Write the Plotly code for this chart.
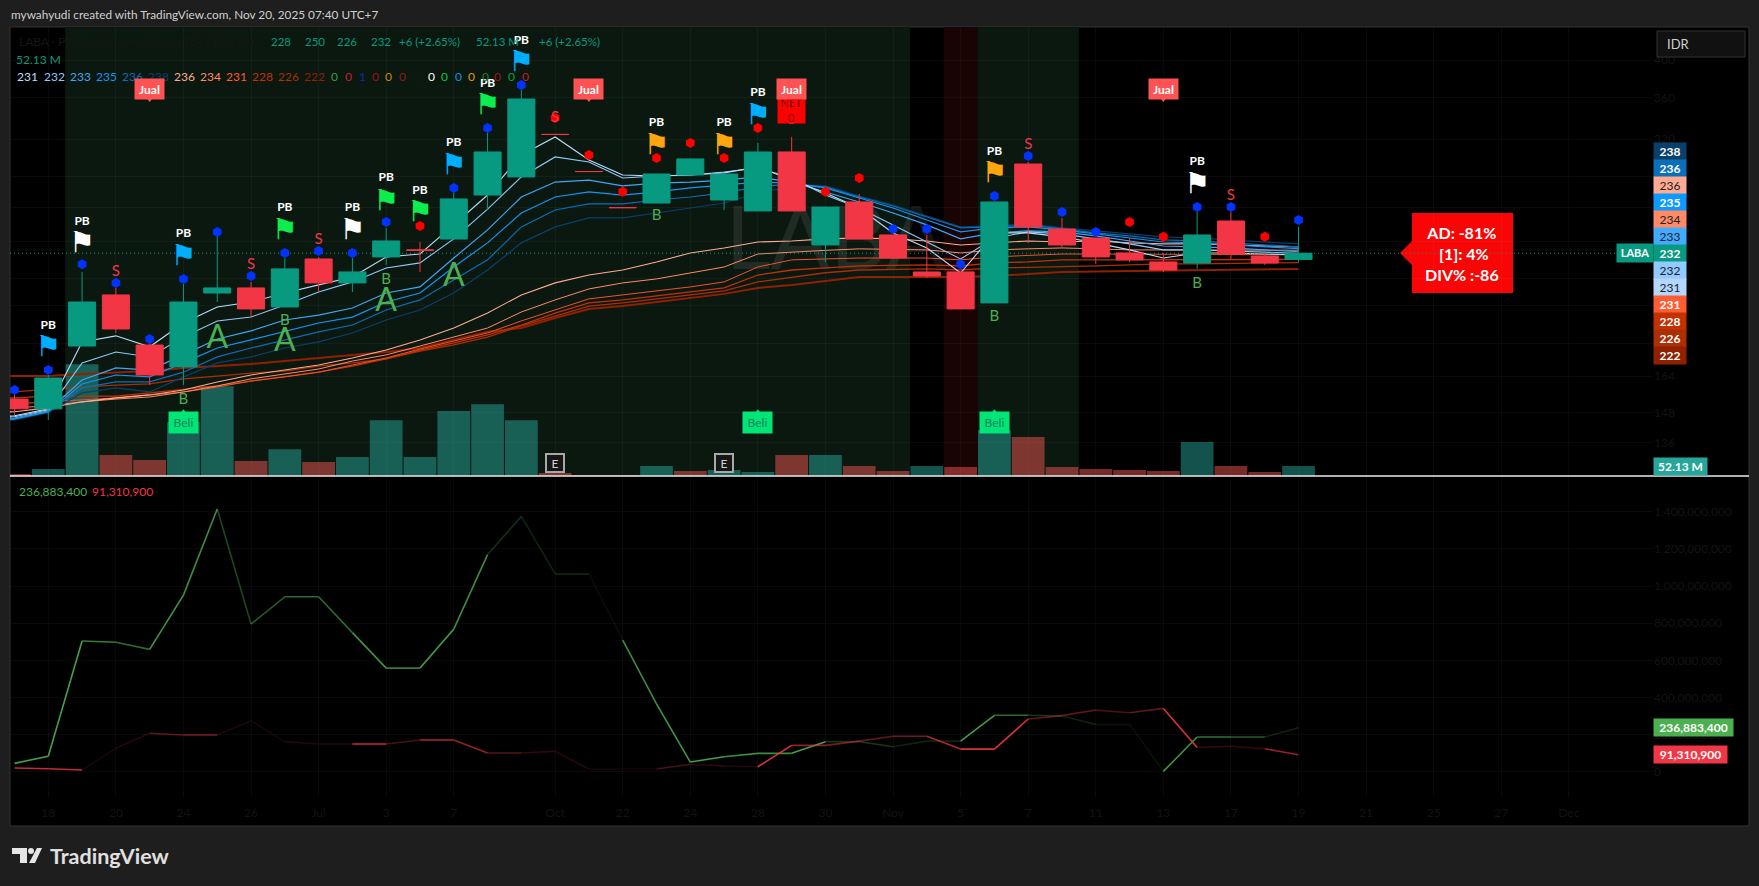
import math
import plotly.graph_objects as go

W, H = 1759, 886

# ---------- data ----------
bar_index = list(range(39))
opens = [153.8,149.6,178.6,206.3,179.1,168.4,207.4,210.4,199.4,228.3,213.4,229.6,234.2,241.5,273.4,287.7,324.4,292.2,263.9,267.3,289.3,269.6,261.4,308.7,237.5,268.1,244.3,220.1,220.1,201.7,298.4,248.4,242.2,232.2,226.4,225.7,254.1,230.2,228]
highs = [155.6,164.6,220.1,210.4,180.2,212.8,243.6,214.0,228.9,229.6,228.9,249.1,239.5,275.0,325.7,367.7,324.4,292.2,263.9,290.1,302.7,290.1,316.6,322.0,264.3,274.2,244.3,244.3,220.1,268.1,300.1,256.3,242.2,242.2,232.2,260.6,260.6,231.5,250]
lows = [147.1,145.0,178.6,185.3,160.0,160.0,202.2,193.9,199.4,208.0,208.0,224.5,220.1,241.5,262.1,287.7,324.3,292.1,263.8,267.3,289.3,262.1,261.4,261.4,226.4,241.5,228.3,216.4,198.3,201.7,238.8,236.2,225.1,226.4,220.1,222.0,228.3,224.5,226]
closes = [149.6,163.2,202.2,187.4,164.6,202.2,210.4,198.3,222.0,213.4,220.1,240.2,234.0,270.4,308.7,358.4,324.3,292.1,263.8,290.1,302.7,290.1,308.7,261.4,264.3,241.5,228.9,217.6,198.3,268.1,249.8,237.5,229.6,227.7,221.3,244.3,231.5,225.7,232]
volumes_m = [10.4,36,582,109,83,281,468,78,140,73,99,291,99,338,374,291,16,5,5,52,26,31,21,109,109,52,26,52,47,239,203,47,36,31,26,177,52.13,21,52.13]
volume_up = [0,1,1,0,0,1,1,0,1,0,1,1,1,1,1,1,0,0,0,1,0,1,1,0,1,0,0,1,0,1,0,0,0,0,0,1,0,0,1]

ema_x = list(range(-1, 39))
ema_231 = [145.8,146.7,149.6,180.7,183.8,178.2,190.6,199.4,202.2,207.4,212.2,217.0,229.6,231.5,251.3,273.4,306.1,322.0,301.8,289.3,288.5,289.3,291.0,296.0,285.2,275.0,263.6,245.7,235.5,219.4,245.7,245.7,243.0,238.9,234.2,228.9,232.2,232.2,231.5,231.0]
ema_232 = [145.4,146.3,149.2,170.3,175.6,173.2,183.2,191.7,193.8,200.5,208.0,214.0,222.6,225.8,241.6,262.8,287.7,304.4,300.1,286.8,288.5,289.3,291.8,295.1,286.8,273.4,263.6,251.3,239.5,228.3,242.2,246.4,245.0,241.6,238.2,234.2,234.2,233.5,232.9,232.0]
ema_233 = [145.0,145.8,148.8,162.3,167.9,166.9,174.2,182.2,186.4,192.2,194.9,198.8,207.4,211.0,228.9,247.8,271.9,283.6,285.2,280.5,282.8,283.6,285.2,287.7,283.6,275.8,268.1,259.9,251.3,241.6,245.7,247.1,246.4,243.6,240.2,236.8,236.2,235.5,234.2,233.0]
ema_235 = [144.6,145.4,148.4,160.5,164.6,163.7,170.3,177.6,181.7,185.9,190.6,193.8,202.2,207.4,223.2,238.9,259.9,271.9,275.8,273.4,275.8,278.9,281.3,283.6,282.8,278.9,271.1,263.6,254.8,246.4,249.2,249.9,247.8,245.0,242.2,239.5,238.9,237.5,236.2,235.0]
ema_236 = [144.2,145.4,148.4,158.7,161.4,161.4,165.9,173.2,177.6,181.7,185.9,189.5,197.7,203.4,215.2,227.7,249.9,262.1,266.6,266.6,269.6,271.9,275.0,279.7,282.1,279.7,271.9,265.1,257.0,249.2,249.9,251.3,248.5,245.7,243.6,240.9,240.2,238.9,237.5,236.2]
ema_238 = [143.8,145.0,148.0,156.5,158.7,156.9,163.7,170.3,173.2,177.6,180.7,185.3,192.2,197.7,207.4,221.3,238.9,249.9,256.3,256.3,259.9,263.6,267.3,275.0,279.7,280.5,272.6,265.8,257.8,249.9,250.6,252.0,249.2,247.1,245.0,243.0,242.2,240.9,239.5,238.2]
ema_a = [148.0,148.4,150.0,152.6,154.3,155.6,157.8,161.4,164.6,166.9,169.3,172.7,176.6,181.7,187.9,196.0,206.3,213.4,218.2,221.3,226.4,232.2,235.5,239.5,240.2,241.6,242.2,241.6,240.2,237.5,238.9,240.2,239.5,240.2,238.9,238.2,238.2,237.5,236.8,236.2]
ema_b = [149.6,150.0,150.9,152.6,153.8,154.7,156.9,159.6,162.8,165.1,167.4,171.2,174.2,178.6,183.2,187.9,196.6,203.4,209.8,213.4,215.8,219.4,223.2,231.5,232.9,233.9,234.9,234.5,234.2,232.2,234.2,234.9,235.5,234.9,234.2,234.2,234.2,234.2,234.2,234.0]
ema_c = [151.7,151.7,152.6,153.4,154.3,155.6,156.9,159.1,161.8,163.7,165.9,169.3,172.7,177.1,181.2,185.3,191.7,197.7,204.0,206.3,208.6,211.0,214.0,223.2,227.7,228.3,228.9,228.9,228.9,227.7,229.6,230.6,231.5,231.5,231.5,231.2,231.2,231.2,231.0,231.0]
ema_d = [154.3,154.3,155.1,155.1,155.1,156.5,158.2,159.6,161.8,163.7,165.9,168.8,172.2,176.6,180.2,184.3,189.5,196.0,201.7,203.4,205.7,208.0,210.4,218.2,221.3,222.6,223.9,224.2,224.5,223.9,225.8,226.4,227.7,227.7,227.7,227.7,227.7,227.7,227.7,228.0]
ema_e = [156.9,156.9,158.2,159.1,160.0,160.5,162.8,164.1,165.5,166.4,168.8,170.3,172.2,176.1,179.2,183.2,189.0,194.3,199.9,201.7,204.0,206.3,208.6,214.0,217.0,219.6,221.3,221.6,222.0,221.3,222.6,222.9,223.2,223.9,224.5,225.1,225.1,225.5,225.8,226.0]
ema_f = [164.1,164.1,164.1,165.1,165.9,166.4,167.9,168.8,169.8,171.2,172.7,174.2,175.6,177.6,181.7,185.9,187.9,193.3,198.3,199.9,202.2,204.6,206.9,210.4,212.2,214.6,217.0,217.0,217.0,217.0,217.6,218.8,220.1,220.4,220.7,221.0,221.3,221.6,222.0,222.0]

blue_dot_x = [0,1,2,3,4,5,6,7,8,9,10,11,13,14,15,26,27,28,29,30,31,32,35,36,38]
blue_dot_y = [157.8,166.9,224.9,213.4,182.2,215.8,246.4,217.6,232.2,233.5,232.2,253.4,278.9,330.3,372.9,248.5,248.5,224.9,272.6,305.3,260.6,246.4,264.3,264.3,254.8]
red_dot_x = [12,16,17,18,19,20,21,22,24,25,33,34,37]
red_dot_y = [250.6,339.7,306.1,276.0,303.5,316.6,303.5,330.3,276.0,286.8,253.4,243.0,243.0]

flag_x = [1,2,5,8,10,11,12,13,14,15,19,21,22,29,35]
flag_y = [177.1,237.5,228.9,246.4,246.4,267.3,259.2,296.0,350.5,395.6,313.3,313.3,341.0,289.3,280.5]
flag_kind = ["b","w","b","g","w","g","g","b","g","b","o","o","b","o","w"]
pb_y = [189.1,253.6,245.0,263.6,263.6,286.8,276.8,316.6,373.9,422.5,335.0,335.0,364.9,308.9,300.4]

s_x = [3,7,9,16,23,30,36]
s_y = [219.7,224.5,240.4,339.7,337.8,314.2,272.2]
b_x = [5,8,11,19,29,35]
b_y = [153.1,191.7,215.2,257.2,193.5,212.8]
a_x = [6,8,11,13]
a_y = [181.7,180.2,201.7,216.4]
jual_x = [4,17,23,34]
beli_x = [5,22,29]
earn_x = [16,21]

buy_line = [45,83,704,697,659,951,1415,795,942,942,749,558,558,768,1169,1375,1065,1065,709,365,52,81,99,99,162,162,135,165,165,304,304,300,255,255,2,187,187,187,236.8834]
sell_line = [20,16,9,126,207,198,198,275,162,149,149,149,171,171,101,101,110,15,15,15,40,31,27,142,142,165,191,191,122,122,284,302,332,318,341,131,137,124,91.3109]
buy_alpha = [.9,.9,.7,.6,.85,.8,.4,.5,.6,.6,.85,.7,.85,.8,.25,.2,.25,.08,.8,.85,.9,.8,.8,.9,.3,.3,.2,.2,.9,.6,.3,.2,.1,.1,.85,.65,.5,.2]
sell_alpha = [.8,.8,.1,.15,.4,.5,.12,.1,.15,.15,.8,.3,.7,.6,.35,.2,.15,.1,.08,.3,.2,.15,.9,.6,.5,.4,.45,.7,.9,.9,.4,.4,.3,.4,.9,.2,.2,.6]

date_pos = [1,3,5,7,9,11,13,16,18,20,22,24,26,28,30,32,34,36,38,40,42,44,46]
date_txt = ["18","20","24","26","Jul","3","7","Oct","22","24","28","30","Nov","5","7","11","13","17","19","21","25","27","Dec"]
price_ticks = [136,148,164,180,200,216,240,264,288,320,360,400]
flow_ticks = [0,200,400,600,800,1000,1200,1400]
side_labels = ["238","236","236","235","234","233","232","232","231","231","228","226","222"]
legend_ma = ["231","232","233","235","236","238","236","234","231","228","226","222"]
legend_flags = ["0","0","1","0","0","0","0","0","0","0","0","0","0","0","0"]

# ---------- styles ----------
BG = "#1e1e1e"; GREEN = "#089981"; RED = "#F23645"
DARK = "#131313"; FONT = "Lato"
side_bg = ["#0B3F6B","#0A6EB8","#FFAB91","#0D99FF","#FF8A65","#42AAFF","#089981","#90CAFF","#B3D7FF","#FF5C33","#C43100","#AB2E04","#8F2000"]
side_fg = ["#fff","#fff","#222","#fff","#222","#222","#fff","#222","#222","#fff","#fff","#fff","#fff"]
flag_colors = {"b":"#00AEFF","w":"#FFFFFF","g":"#0CEE4E","o":"#FFA50D"}
legend_ma_c = ["#BBDEFB","#90CAF9","#42A5F5","#1296F5","#0A6EB8","#0B3F6B","#FFAB91","#FF8A65","#FF5C33","#C43100","#AB2E04","#8F2000"]
legend_flag_c = ["#3E9A3E","#C8202A","#0A2FA8","#A01010","#C98A10","#901818","#151515","#FFFFFF","#10C040","#1090E0","#E09A10","#2C7A2C","#A01018","#10A040","#C02028"]
legend_flag_x = [334,348,362,375,388,402,417,431,444,458,471.5,485,498,512,525.5]
legend_ma_x = [27,54,80,106,132,158,184,210,236,262,288.5,314.6]
ema_styles = [("#8F2000",2.0),("#AB2E04",1.3),("#C43100",1.3),("#F0522A",1.0),("#FF8A65",1.0),("#FFAB91",1.1),
              ("#0B3F6B",1.2),("#0A6EB8",1.2),("#1296F5",1.2),("#42A5F5",1.2),("#90CAF9",1.1),("#BBDEFB",1.1)]

def px(x): return x / W
def py(y): return 1 - y / H

LEFT, RIGHT = 10, 1653
x_rng = [(LEFT - 14.5) / 33.79, (RIGHT - 14.5) / 33.79]
log_rng = [math.log10(123.8), math.log10(439.1)]

fig = go.Figure()

# volume (main subplot, under everything)
fig.add_trace(go.Bar(x=bar_index, y=[v * 1e6 for v in volumes_m], xaxis="x", yaxis="y",
    marker=dict(color=["rgba(38,166,154,0.5)" if u else "rgba(239,83,80,0.5)" for u in volume_up], line_width=0),
    showlegend=False, hoverinfo="skip"))

# watermark + moving averages
fig.add_trace(go.Scatter(x=[24.3], y=[236], mode="text", text=["LABA"], xaxis="x", yaxis="y2",
    textfont=dict(family=FONT, size=88, color="rgba(255,255,255,0.085)"), showlegend=False, hoverinfo="skip"))
for vals, (col, lw) in zip([ema_f, ema_e, ema_d, ema_c, ema_b, ema_a, ema_238, ema_236, ema_235, ema_233, ema_232, ema_231],
                           ema_styles):
    fig.add_trace(go.Scatter(x=ema_x, y=vals, mode="lines", xaxis="x", yaxis="y2",
        line=dict(color=col, width=lw), showlegend=False, hoverinfo="skip"))
fig.add_trace(go.Scatter(x=[x_rng[0], 47.4], y=[232, 232], mode="lines", xaxis="x", yaxis="y2",
    line=dict(color=GREEN, width=1, dash="1px 3px"), showlegend=False, hoverinfo="skip"))

# candles
fig.add_trace(go.Candlestick(x=bar_index, open=opens, high=highs, low=lows, close=closes, xaxis="x", yaxis="y3",
    increasing=dict(line=dict(color=GREEN, width=1), fillcolor=GREEN),
    decreasing=dict(line=dict(color=RED, width=1), fillcolor=RED),
    whiskerwidth=0, showlegend=False, hoverinfo="skip"))

# signals
fig.add_trace(go.Scatter(x=blue_dot_x, y=blue_dot_y, mode="markers", xaxis="x", yaxis="y4",
    marker=dict(symbol="hexagon", size=10, color="#0033FF"), showlegend=False, hoverinfo="skip"))
fig.add_trace(go.Scatter(x=red_dot_x, y=red_dot_y, mode="markers", xaxis="x", yaxis="y4",
    marker=dict(symbol="hexagon", size=10, color="#FF0000"), showlegend=False, hoverinfo="skip"))
fig.add_trace(go.Scatter(x=flag_x, y=flag_y, mode="text", text=["\u2691"] * len(flag_x), xaxis="x", yaxis="y4",
    textfont=dict(family="DejaVu Sans", size=29, color=[flag_colors[k] for k in flag_kind]),
    showlegend=False, hoverinfo="skip"))
fig.add_trace(go.Scatter(x=flag_x, y=pb_y, mode="text", text=["<b>PB</b>"] * len(flag_x), xaxis="x", yaxis="y4",
    textfont=dict(family=FONT, size=12, color="#FFFFFF"), showlegend=False, hoverinfo="skip"))
fig.add_trace(go.Scatter(x=s_x, y=s_y, mode="text", text=["S"] * len(s_x), xaxis="x", yaxis="y4",
    textfont=dict(family=FONT, size=15, color=RED), showlegend=False, hoverinfo="skip"))
fig.add_trace(go.Scatter(x=b_x, y=b_y, mode="text", text=["B"] * len(b_x), xaxis="x", yaxis="y4",
    textfont=dict(family=FONT, size=15, color="#4CAF50"), showlegend=False, hoverinfo="skip"))
fig.add_trace(go.Scatter(x=a_x, y=a_y, mode="text", text=["A"] * len(a_x), xaxis="x", yaxis="y4",
    textfont=dict(family=FONT, size=32, color="#4CAF50"), showlegend=False, hoverinfo="skip"))
fig.add_trace(go.Scatter(x=jual_x, y=[357.8] * len(jual_x), mode="markers", xaxis="x", yaxis="y4",
    marker=dict(symbol="triangle-down", size=5, color="#FF5252"), showlegend=False, hoverinfo="skip"))
fig.add_trace(go.Scatter(x=beli_x, y=[148.4] * len(beli_x), mode="markers", xaxis="x", yaxis="y4",
    marker=dict(symbol="triangle-up", size=5, color="#00E676"), showlegend=False, hoverinfo="skip"))

# lower pane: segments with varying opacity
for series, alphas, rgb in [(buy_line, buy_alpha, "76,175,80"), (sell_line, sell_alpha, "242,54,69")]:
    for k, a in enumerate(alphas):
        fig.add_trace(go.Scatter(x=bar_index[k:k + 2], y=[v * 1e6 for v in series[k:k + 2]], mode="lines",
            xaxis="x2", yaxis="y5", line=dict(color=f"rgba({rgb},{a})", width=1.6),
            showlegend=False, hoverinfo="skip"))

# ---------- shapes ----------
shapes = []
def rect(x0, y0, x1, y1, fill, line=None, layer="below"):
    shapes.append(dict(type="rect", xref="paper", yref="paper", x0=px(x0), x1=px(x1), y0=py(y1), y1=py(y0),
                       fillcolor=fill, line=dict(color=line or fill, width=1 if line else 0), layer=layer))
rect(10, 27, 1749, 826, "#000000", "#333333")
for a, b, c in [(1.5, 26.5, "#0A1810"), (27.5, 28.5, "#1A0303"), (28.5, 31.5, "#0A1810")]:
    shapes.append(dict(type="rect", xref="x", yref="paper", x0=a, x1=b, y0=py(476), y1=py(27),
                       fillcolor=c, line_width=0, layer="below"))
rect(1412, 213, 1513, 293, "#FA0505")
shapes.append(dict(type="path", xref="paper", yref="paper", layer="below", fillcolor="#FA0505", line_width=0,
                   path=f"M {px(1412)} {py(241)} L {px(1400)} {py(253)} L {px(1412)} {py(265)} Z"))
shapes.append(dict(type="line", xref="paper", yref="paper", x0=px(10), x1=px(1749), y0=py(476), y1=py(476),
                   line=dict(color="#EDEDED", width=1.5), layer="above"))
rect(1657, 31, 1745, 57, "#111111", "#333333", layer="above")
# logo
for p in [[(12, 848), (27, 848), (27, 863), (20, 863), (20, 854), (12, 854)],
          [(37, 848), (42, 848), (35, 863), (29, 863)]]:
    path = "M " + " L ".join(f"{px(a)} {py(b)}" for a, b in p) + " Z"
    shapes.append(dict(type="path", xref="paper", yref="paper", path=path, fillcolor="#E6E6E6", line_width=0, layer="above"))
shapes.append(dict(type="circle", xref="paper", yref="paper", x0=px(28), x1=px(34), y0=py(854), y1=py(848),
                   fillcolor="#E6E6E6", line_width=0, layer="above"))

# ---------- annotations ----------
ann = []
def note(text, x, y, size=12, color="#fff", anchor="center", **kw):
    ann.append(dict(text=text, xref="paper", yref="paper", x=px(x), y=py(y), xanchor=anchor, yanchor="middle",
                    showarrow=False, font=dict(family=FONT, size=size, color=color), borderpad=0, **kw))
def badge(text, x0, y0, x1, y1, bg, fg="#fff", size=12):
    ann.append(dict(text=text, xref="paper", yref="paper", x=px((x0 + x1) / 2), y=py((y0 + y1) / 2), xanchor="center",
                    yanchor="middle", showarrow=False, width=x1 - x0, height=y1 - y0, align="center", valign="middle",
                    bgcolor=bg, borderpad=0, font=dict(family=FONT, size=size, color=fg)))

note("mywahyudi created with TradingView.com, Nov 20, 2025 07:40 UTC+7", 10, 15, 11.8, "#D0D0D0", "left")
note("<b>TradingView</b>", 49, 856, 21.5, "#E0E0E0", "left")
note("LABA \u00b7 PT Green Power Group Tbk \u00b7 1D \u00b7 IDX", 18, 42, 12, "#161616", "left")
for t, x in [("228", 281), ("250", 315), ("226", 347), ("232", 381), ("+6 (+2.65%)", 429), ("52.13 M", 497), ("+6 (+2.65%)", 569)]:
    note(t, x, 42, 11.5, GREEN)
note("52.13 M", 38, 59, 12, GREEN)
for t, x, c in zip(legend_ma, legend_ma_x, legend_ma_c):
    note(t, x, 76, 12, c)
for t, x, c in zip(legend_flags, legend_flag_x, legend_flag_c):
    note(t, x, 76, 12, c)
note("IDR", 1666, 44, 13, "#D0D0D0", "left")

for i, t in enumerate(side_labels):
    badge(f"<b>{t}</b>" if side_fg[i] == "#fff" else t, 1654, 143.3 + 17 * i, 1686, 160.3 + 17 * i, side_bg[i], side_fg[i], 12)
badge("<b>LABA</b>", 1617, 244.5, 1653, 262, GREEN, "#fff", 11)
badge("<b>52.13 M</b>", 1654, 458, 1707, 475, "#26A69A", "#fff", 12)
badge("<b>236,883,400</b>", 1654, 719, 1733, 736, "#4CAF50", "#fff", 12)
badge("<b>91,310,900</b>", 1654, 746, 1727, 763, RED, "#fff", 12)
note("236,883,400", 18, 492, 12, "#4CAF50", "left")
note("91,310,900", 91, 492, 12, RED, "left")
note("<b>AD: -81%<br> [1]: 4%<br>DIV% :-86</b>", 1462, 253, 16, "#fff")

def price_badge(text, i, price, w, h, bg, fg, size=12, **kw):
    ann.append(dict(text=text, xref="x", yref="y4", x=i, y=math.log10(price), showarrow=False, width=w, height=h,
                    align="center", valign="middle", bgcolor=bg, borderpad=0,
                    font=dict(family=FONT, size=size, color=fg), **kw))
price_badge("NET<br>0", 23, 347.0, 27, 26, "#FF0000", "#7A0000", 11)
for i in jual_x:
    price_badge("<b>Jual</b>", i, 368.7, 29, 20, "#FF5252", "#fff")
for i in beli_x:
    price_badge("Beli", i, 143.8, 29, 21, "#00E676", "#0F7F5A")
for i in earn_x:
    price_badge("E", i, 128.4, 16, 16, "#161616", "#CFCFCF", 12, bordercolor="#A8A8A8", borderwidth=2)

grid = "rgba(255,255,255,0.035)"
fig.update_layout(
    width=W, height=H, autosize=False, margin=dict(l=0, r=0, t=0, b=0, pad=0),
    paper_bgcolor=BG, plot_bgcolor="#000000", showlegend=False, font=dict(family=FONT),
    barmode="overlay", bargap=0.03, boxgap=0.2, boxgroupgap=0, dragmode=False, hovermode=False,
    shapes=shapes, annotations=ann,
    xaxis=dict(domain=[px(LEFT), px(RIGHT)], range=x_rng, anchor="y", rangeslider=dict(visible=False),
               showticklabels=False, tickmode="array", tickvals=date_pos, showgrid=True, gridcolor=grid,
               gridwidth=1, zeroline=False, showline=False, ticks=""),
    yaxis=dict(domain=[py(476), py(27)], range=[0, 2339e6], visible=False, fixedrange=True),
    yaxis2=dict(overlaying="y", type="log", range=log_rng, side="right", anchor="x", tickmode="array",
                tickvals=price_ticks, ticktext=[str(v) for v in price_ticks], showgrid=True, gridcolor=grid,
                zeroline=False, showline=False, ticks="", tickfont=dict(family=FONT, size=12, color=DARK)),
    yaxis3=dict(overlaying="y", type="log", range=log_rng, visible=False, anchor="x"),
    yaxis4=dict(overlaying="y", type="log", range=log_rng, visible=False, anchor="x"),
    xaxis2=dict(domain=[px(LEFT), px(RIGHT)], range=x_rng, anchor="y5", tickmode="array", tickvals=date_pos,
                ticktext=date_txt, showgrid=True, gridcolor=grid, zeroline=False, showline=False,
                ticks="outside", ticklen=5, tickcolor="rgba(0,0,0,0)",
                tickangle=0, tickfont=dict(family=FONT, size=12, color=DARK)),
    yaxis5=dict(domain=[py(797), py(477)], range=[-136e6, 1587e6], side="right", anchor="x2", tickmode="array",
                tickvals=[v * 1e6 for v in flow_ticks],
                ticktext=[f"{v * 1000000:,}" for v in flow_ticks], showgrid=True, gridcolor=grid,
                zeroline=False, showline=False, ticks="", tickfont=dict(family=FONT, size=12, color=DARK)),
)

fig.write_html("out.html", config=dict(displayModeBar=False),
               post_script="document.body.style.margin='0';document.body.style.background='#1e1e1e';")
